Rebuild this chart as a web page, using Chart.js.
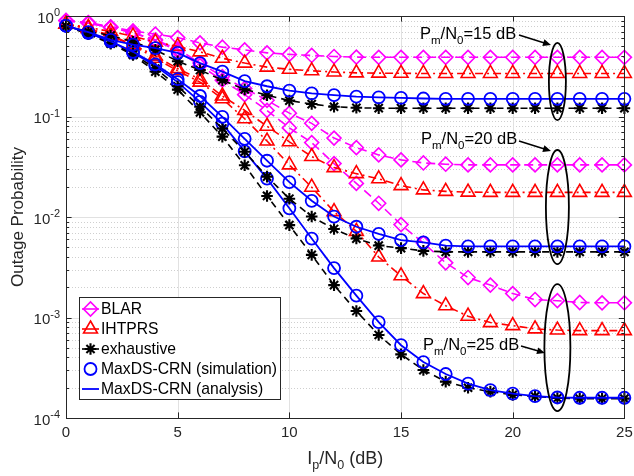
<!DOCTYPE html>
<html>
<head>
<meta charset="utf-8">
<script src="https://cdn.jsdelivr.net/npm/chart.js@4.4.1/dist/chart.umd.min.js"></script>
<style>
  html, body { margin: 0; padding: 0; background: #ffffff; }
  canvas { display: block; }
</style>
</head>
<body>
<canvas id="chart" width="634" height="476"></canvas>
<script>
// Interference-to-noise ratio Ip/N0 in dB (x axis)
const ipdB = [0,1,2,3,4,5,6,7,8,9,10,11,12,13,14,15,16,17,18,19,20,21,22,23,24,25];

// Outage probability, one array per scheme and Pm/N0 level
const blar15 = [0.90,0.86,0.78,0.71,0.66,0.61,0.54,0.49,0.46,0.43,0.415,0.405,0.395,0.39,0.388,0.388,0.388,0.388,0.388,0.388,0.388,0.388,0.388,0.388,0.388,0.388];
const blar20 = [0.90,0.85,0.77,0.68,0.58,0.47,0.34,0.25,0.19,0.145,0.108,0.0855,0.061,0.049,0.0415,0.037,0.0345,0.0335,0.033,0.033,0.033,0.033,0.033,0.033,0.033,0.033];
const blar25 = [0.90,0.85,0.77,0.68,0.57,0.45,0.32,0.23,0.165,0.115,0.077,0.055,0.034,0.0216,0.0137,0.0084,0.0055,0.0035,0.0025,0.0021,0.00173,0.00151,0.00147,0.00141,0.0014,0.0014];

const ihtprs15 = [0.83,0.77,0.70,0.63,0.55,0.50,0.44,0.38,0.34,0.31,0.295,0.285,0.277,0.272,0.270,0.269,0.268,0.268,0.268,0.268,0.268,0.268,0.268,0.268,0.268,0.268];
const ihtprs20 = [0.83,0.75,0.64,0.52,0.40,0.30,0.235,0.16,0.115,0.08,0.056,0.040,0.031,0.027,0.024,0.0205,0.0186,0.018,0.0177,0.0176,0.0176,0.0176,0.0176,0.0176,0.0176,0.0176];
const ihtprs25 = [0.83,0.75,0.63,0.51,0.38,0.285,0.22,0.15,0.095,0.057,0.033,0.0198,0.0113,0.0072,0.0040,0.0026,0.00173,0.00131,0.00103,0.00089,0.00083,0.00077,0.00075,0.00074,0.00074,0.00074];

const exh15 = [0.79,0.70,0.64,0.555,0.46,0.355,0.29,0.23,0.186,0.163,0.144,0.133,0.125,0.122,0.121,0.121,0.121,0.121,0.121,0.121,0.121,0.121,0.121,0.121,0.121,0.121];
const exh20 = [0.79,0.67,0.54,0.42,0.30,0.20,0.125,0.076,0.0446,0.0252,0.0152,0.0101,0.0076,0.0061,0.0052,0.0049,0.0046,0.0045,0.0045,0.0045,0.0045,0.0045,0.0045,0.0045,0.0045,0.0045];
const exh25 = [0.79,0.66,0.53,0.41,0.28,0.185,0.11,0.063,0.0327,0.0162,0.0083,0.0042,0.0021,0.00116,0.00067,0.00043,0.00030,0.00023,0.00020,0.000183,0.00017,0.000164,0.000158,0.000156,0.000156,0.000156];

const maxds15 = [0.80,0.69,0.58,0.52,0.48,0.43,0.34,0.28,0.225,0.20,0.181,0.17,0.163,0.158,0.155,0.153,0.151,0.15,0.15,0.15,0.15,0.15,0.15,0.15,0.15,0.15];
const maxds20 = [0.80,0.68,0.56,0.44,0.33,0.235,0.16,0.099,0.06,0.0363,0.0222,0.0145,0.0101,0.008,0.0068,0.0059,0.0056,0.0052,0.0051,0.0051,0.0051,0.0051,0.0051,0.0051,0.0051,0.0051];
const maxds25 = [0.80,0.68,0.56,0.43,0.32,0.22,0.14,0.085,0.045,0.0241,0.0122,0.0061,0.0031,0.00165,0.0009,0.00053,0.00036,0.000274,0.00022,0.000189,0.000175,0.000165,0.00016,0.000159,0.000159,0.000159];

// Axis ticks
const xTickValues = [0,5,10,15,20,25];
const yTickExponents = [-4,-3,-2,-1,0];

// Legend entries and Pm/N0 group labels
const legendLabels = ['BLAR','IHTPRS','exhaustive','MaxDS-CRN (simulation)','MaxDS-CRN (analysis)'];
const pmLevels = ['15','20','25'];

const FONT = "'Liberation Sans', Arial, sans-serif";
const AXIS_COLOR = '#262626';

const styles = {
  blar:   { borderColor:'#ff00ff', pointBorderColor:'#ff00ff', borderDash:[9,5], pointStyle:'rectRot', pointRadius:7, pointBorderWidth:1.6, borderWidth:1.6 },
  ihtprs: { borderColor:'#ff0000', pointBorderColor:'#ff0000', borderDash:[8,4,2,4], pointStyle:'triangle', pointRadius:8, pointBorderWidth:1.6, borderWidth:1.6 },
  exh:    { borderColor:'#000000', pointBorderColor:'#000000', borderDash:[7,5], pointStyle:'star', pointRadius:5.8, pointBorderWidth:2.1, borderWidth:1.6 },
  sim:    { borderColor:'#0000ff', pointBorderColor:'#0000ff', showLine:false, pointStyle:'circle', pointRadius:6, pointBorderWidth:1.8, borderWidth:0 },
  ana:    { borderColor:'#0000ff', pointRadius:0, borderWidth:1.8 }
};

function series(label, values, style) {
  return Object.assign({
    label: label,
    data: values.map((v, i) => ({ x: ipdB[i], y: v })),
    backgroundColor: 'rgba(0,0,0,0)',
    pointBackgroundColor: 'rgba(0,0,0,0)',
    tension: 0,
    clip: false
  }, style);
}

const groups = [
  { blar: blar15, ihtprs: ihtprs15, exh: exh15, maxds: maxds15 },
  { blar: blar20, ihtprs: ihtprs20, exh: exh20, maxds: maxds20 },
  { blar: blar25, ihtprs: ihtprs25, exh: exh25, maxds: maxds25 }
];

const datasets = [];
groups.forEach((g, i) => {
  const tag = ' Pm/N0=' + pmLevels[i] + ' dB';
  datasets.push(series(legendLabels[4] + tag, g.maxds, styles.ana));
  datasets.push(series(legendLabels[3] + tag, g.maxds, styles.sim));
  datasets.push(series(legendLabels[2] + tag, g.exh, styles.exh));
  datasets.push(series(legendLabels[1] + tag, g.ihtprs, styles.ihtprs));
  datasets.push(series(legendLabels[0] + tag, g.blar, styles.blar));
});

// Draw text made of normal / subscript runs
function drawRich(ctx, runs, x, y, align) {
  let total = 0;
  runs.forEach(r => { ctx.font = r.size + 'px ' + FONT; r.w = ctx.measureText(r.t).width; total += r.w; });
  let cx = align === 'center' ? x - total / 2 : (align === 'right' ? x - total : x);
  ctx.textAlign = 'left';
  ctx.textBaseline = 'alphabetic';
  runs.forEach(r => {
    ctx.font = r.size + 'px ' + FONT;
    ctx.fillText(r.t, cx, y + (r.dy || 0));
    cx += r.w;
  });
  return total;
}

function fallbackMarker(ctx, style, r, x, y) {
  ctx.beginPath();
  if (style === 'circle') { ctx.arc(x, y, r, 0, Math.PI * 2); }
  else if (style === 'rectRot') { ctx.moveTo(x, y - r); ctx.lineTo(x + r, y); ctx.lineTo(x, y + r); ctx.lineTo(x - r, y); ctx.closePath(); }
  else if (style === 'triangle') {
    for (let k = 0; k < 3; k++) { const a = k * 2 * Math.PI / 3; const px = x + Math.sin(a) * r, py = y - Math.cos(a) * r; k ? ctx.lineTo(px, py) : ctx.moveTo(px, py); }
    ctx.closePath();
  } else if (style === 'star') {
    for (let k = 0; k < 4; k++) { const a = k * Math.PI / 4; ctx.moveTo(x + Math.cos(a) * r, y + Math.sin(a) * r); ctx.lineTo(x - Math.cos(a) * r, y - Math.sin(a) * r); }
  }
  ctx.stroke();
}

const frame = {
  id: 'frame',
  beforeDatasetsDraw(chart) {
    const ctx = chart.ctx;
    const { left, right, top, bottom } = chart.chartArea;
    const xs = chart.scales.x, ys = chart.scales.y;
    ctx.save();
    ctx.lineWidth = 1;
    // minor log grid
    ctx.strokeStyle = '#cfcfcf';
    ctx.setLineDash([1, 2]);
    for (let d = -4; d < 0; d++) {
      for (let m = 2; m <= 9; m++) {
        const py = Math.round(ys.getPixelForValue(m * Math.pow(10, d))) + 0.5;
        ctx.beginPath(); ctx.moveTo(left, py); ctx.lineTo(right, py); ctx.stroke();
      }
    }
    // major grid
    ctx.setLineDash([]);
    ctx.strokeStyle = '#e1e1e1';
    yTickExponents.forEach(e => {
      const py = Math.round(ys.getPixelForValue(Math.pow(10, e))) + 0.5;
      ctx.beginPath(); ctx.moveTo(left, py); ctx.lineTo(right, py); ctx.stroke();
    });
    xTickValues.forEach(v => {
      const px = Math.round(xs.getPixelForValue(v)) + 0.5;
      ctx.beginPath(); ctx.moveTo(px, top); ctx.lineTo(px, bottom); ctx.stroke();
    });
    ctx.restore();
  },
  afterDatasetsDraw(chart) {
    const ctx = chart.ctx;
    const { left, right, top, bottom } = chart.chartArea;
    const xs = chart.scales.x, ys = chart.scales.y;
    ctx.save();
    // axes box
    ctx.strokeStyle = AXIS_COLOR;
    ctx.lineWidth = 1;
    ctx.setLineDash([]);
    ctx.strokeRect(Math.round(left) + 0.5, Math.round(top) + 0.5, Math.round(right - left), Math.round(bottom - top));
    // tick marks (inward)
    ctx.beginPath();
    xTickValues.forEach(v => {
      const px = Math.round(xs.getPixelForValue(v)) + 0.5;
      ctx.moveTo(px, bottom); ctx.lineTo(px, bottom - 5.6);
      ctx.moveTo(px, top); ctx.lineTo(px, top + 5.6);
    });
    for (let d = -4; d <= 0; d++) {
      for (let m = 1; m <= 9; m++) {
        if (d === 0 && m > 1) break;
        const py = Math.round(ys.getPixelForValue(m * Math.pow(10, d))) + 0.5;
        const len = m === 1 ? 5.6 : 3;
        ctx.moveTo(left, py); ctx.lineTo(left + len, py);
        ctx.moveTo(right, py); ctx.lineTo(right - len, py);
      }
    }
    ctx.stroke();

    // tick labels
    ctx.fillStyle = AXIS_COLOR;
    ctx.font = '15px ' + FONT;
    ctx.textAlign = 'center';
    ctx.textBaseline = 'middle';
    xTickValues.forEach(v => ctx.fillText(String(v), xs.getPixelForValue(v), 433));
    yTickExponents.forEach(e => {
      const py = ys.getPixelForValue(Math.pow(10, e));
      const expText = e < 0 ? '-' + Math.abs(e) : String(e);
      ctx.font = '11px ' + FONT;
      const ew = ctx.measureText(expText).width;
      ctx.font = '15px ' + FONT;
      const bw = ctx.measureText('10').width;
      const rightEdge = 60;
      ctx.textAlign = 'left';
      ctx.textBaseline = 'middle';
      ctx.fillText('10', rightEdge - ew - bw, py + 2.5);
      ctx.font = '11px ' + FONT;
      ctx.fillText(expText, rightEdge - ew, py - 3);
    });

    // axis titles
    ctx.fillStyle = AXIS_COLOR;
    drawRich(ctx, [
      { t: 'I', size: 18 }, { t: 'p', size: 12.5, dy: 5 }, { t: '/N', size: 18 },
      { t: '0', size: 12.5, dy: 5 }, { t: ' (dB)', size: 18 }
    ], (left + right) / 2, 464, 'center');
    ctx.save();
    ctx.translate(18, (top + bottom) / 2);
    ctx.rotate(-Math.PI / 2);
    ctx.font = '17px ' + FONT;
    ctx.textAlign = 'center';
    ctx.textBaseline = 'middle';
    ctx.fillText('Outage Probability', 0, 0);
    ctx.restore();

    // Pm/N0 group annotations: label, arrow and ellipse around x = 22
    const ex = xs.getPixelForValue(22);
    const notes = [
      { level: pmLevels[0], tx: 420, ty: 39, a: [519, 35, 551, 45], eTop: 0.54,   eBot: 0.092,   rx: 8.5 },
      { level: pmLevels[1], tx: 421, ty: 144, a: [519, 141, 551, 151], eTop: 0.0464, eBot: 0.0034, rx: 11.5 },
      { level: pmLevels[2], tx: 423, ty: 350, a: [521, 346, 545, 353], eTop: 0.00215, eBot: 0.000117, rx: 13 }
    ];
    ctx.fillStyle = '#000000';
    ctx.strokeStyle = '#000000';
    notes.forEach(n => {
      drawRich(ctx, [
        { t: 'P', size: 16.5 }, { t: 'm', size: 11.5, dy: 5 }, { t: '/N', size: 16.5 },
        { t: '0', size: 11.5, dy: 5 }, { t: '=' + n.level + ' dB', size: 16.5 }
      ], n.tx, n.ty, 'left');
      const [x1, y1, x2, y2] = n.a;
      const ang = Math.atan2(y2 - y1, x2 - x1);
      ctx.lineWidth = 1.5;
      ctx.beginPath(); ctx.moveTo(x1, y1); ctx.lineTo(x2 - 6 * Math.cos(ang), y2 - 6 * Math.sin(ang)); ctx.stroke();
      ctx.beginPath();
      ctx.moveTo(x2, y2);
      ctx.lineTo(x2 - 8 * Math.cos(ang) + 3.5 * Math.sin(ang), y2 - 8 * Math.sin(ang) - 3.5 * Math.cos(ang));
      ctx.lineTo(x2 - 8 * Math.cos(ang) - 3.5 * Math.sin(ang), y2 - 8 * Math.sin(ang) + 3.5 * Math.cos(ang));
      ctx.closePath(); ctx.fill();
      const yt = ys.getPixelForValue(n.eTop), yb = ys.getPixelForValue(n.eBot);
      ctx.lineWidth = 1.8;
      ctx.beginPath();
      ctx.ellipse(ex, (yt + yb) / 2, n.rx, (yb - yt) / 2, 0, 0, Math.PI * 2);
      ctx.stroke();
    });

    // legend
    const lx = 79.5, ly = 297.5, lw = 201, lh = 102;
    ctx.fillStyle = '#ffffff';
    ctx.fillRect(lx, ly, lw, lh);
    ctx.strokeStyle = AXIS_COLOR;
    ctx.lineWidth = 1;
    ctx.strokeRect(lx, ly, lw, lh);
    const legendStyles = [styles.blar, styles.ihtprs, styles.exh, styles.sim, styles.ana];
    legendStyles.forEach((st, i) => {
      const cy = 309 + i * 20;
      ctx.strokeStyle = st.borderColor;
      ctx.fillStyle = 'rgba(0,0,0,0)';
      if (st.showLine !== false) {
        ctx.lineWidth = st.borderWidth;
        ctx.setLineDash([]);
        ctx.beginPath(); ctx.moveTo(82, cy); ctx.lineTo(99, cy); ctx.stroke();
      }
      if (st.pointRadius > 0) {
        ctx.lineWidth = st.pointBorderWidth;
        const opts = { pointStyle: st.pointStyle, radius: st.pointRadius, rotation: 0, borderWidth: st.pointBorderWidth };
        if (Chart.helpers && Chart.helpers.drawPoint) {
          Chart.helpers.drawPoint(ctx, opts, 90.5, cy);
        } else {
          fallbackMarker(ctx, st.pointStyle, st.pointRadius, 90.5, cy);
        }
      }
      ctx.fillStyle = '#000000';
      ctx.font = '15.7px ' + FONT;
      ctx.textAlign = 'left';
      ctx.textBaseline = 'middle';
      ctx.fillText(legendLabels[i], 101, cy + 1);
    });
    ctx.restore();
  }
};

new Chart(document.getElementById('chart'), {
  type: 'line',
  data: { datasets: datasets },
  options: {
    responsive: false,
    animation: false,
    layout: { padding: { left: 0, right: 8, top: 16, bottom: 0 } },
    plugins: { legend: { display: false }, tooltip: { enabled: false } },
    scales: {
      x: {
        type: 'linear', min: 0, max: 25,
        grid: { display: false }, border: { display: false },
        ticks: { display: false },
        afterFit: s => { s.height = 58; }
      },
      y: {
        type: 'logarithmic', min: 1e-4, max: 1,
        grid: { display: false }, border: { display: false },
        ticks: { display: false },
        afterFit: s => { s.width = 66; }
      }
    }
  },
  plugins: [frame]
});
</script>
</body>
</html>
